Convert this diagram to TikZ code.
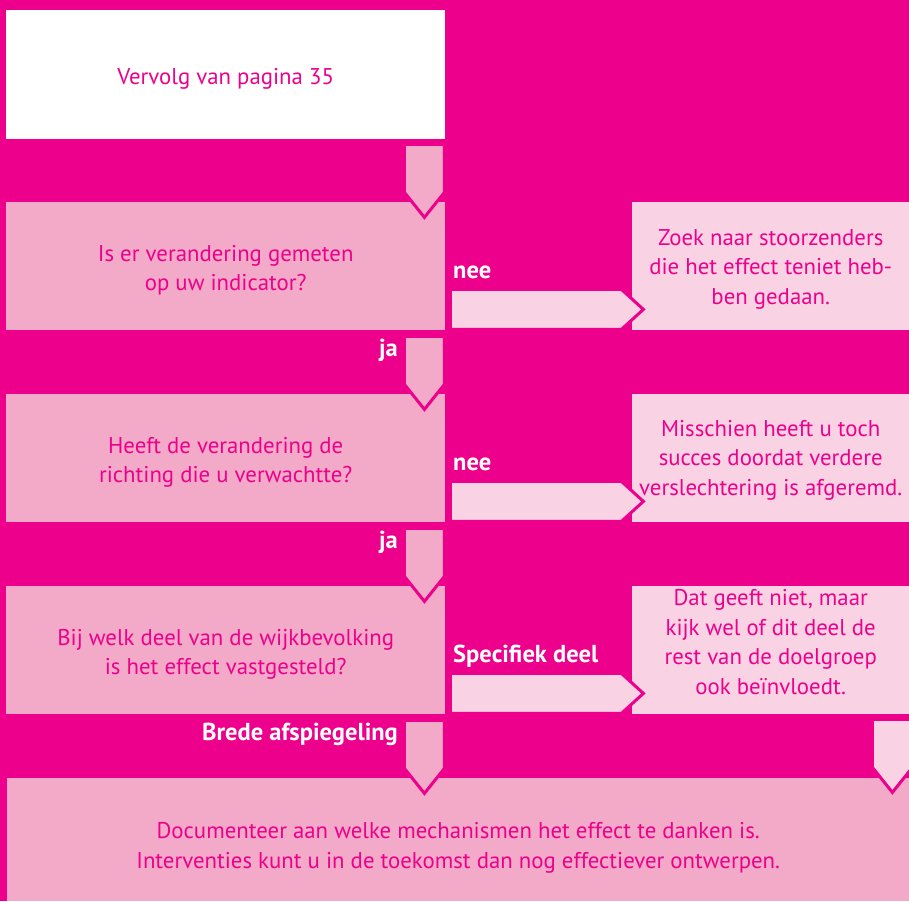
\documentclass[tikz,border=0pt]{standalone}
\usepackage{fontspec}
\setmainfont{PT Sans}
\usetikzlibrary{calc}
\definecolor{mag}{HTML}{EC008C}
\definecolor{midpink}{HTML}{F3A9C8}
\definecolor{lightpink}{HTML}{F9D3E3}
\tikzset{
  x=1pt, y=-1pt,
  txt/.style={font=\fontsize{22.8}{29.5}\selectfont, text=mag, align=center, inner sep=0pt},
  boxtext/.style 2 args={label={[txt, yshift=#1]center:{#2}}},
  lbl/.style={font=\fontsize{24.5}{26}\selectfont\bfseries, text=white, inner sep=0pt},
  qbox/.style={inner sep=0pt, fill=midpink, anchor=north west, minimum width=439, minimum height=128},
  rbox/.style={inner sep=0pt, fill=lightpink, anchor=north west, minimum width=277, minimum height=128},
  dnarr/.style={fill=midpink, draw=mag, line width=3pt, line join=miter},
  dnarrl/.style={fill=lightpink, draw=mag, line width=3pt, line join=miter},
  harr/.style={fill=lightpink, draw=mag, line width=3pt, line join=miter},
}
\begin{document}
\begin{tikzpicture}
\fill[mag] (0,0) rectangle (909,901);
\useasboundingbox (0,0) rectangle (909,901);
% top white box
\node[qbox, fill=white, minimum height=129, boxtext={-4pt}{Vervolg van pagina 35}] (v) at (6,10) {};
% left question boxes
\node[qbox, boxtext={-4pt}{Is er verandering gemeten\\op uw indicator?}] (qa) at (6,202) {};
\node[qbox, boxtext={-4pt}{Heeft de verandering de\\richting die u verwachtte?}] (qb) at (6,394) {};
\node[qbox, boxtext={-4pt}{Bij welk deel van de wijkbevolking\\is het effect vastgesteld?}] (qc) at (6,586) {};
% right boxes
\node[rbox, boxtext={-3pt}{Zoek naar stoorzenders\\die het effect teniet heb-\\ben gedaan.}] (ra) at (632,202) {};
\node[rbox, boxtext={-2pt}{Misschien heeft u toch\\succes doordat verdere\\verslechtering is afgeremd.}] (rb) at (632,394) {};
\node[rbox, boxtext={8pt}{Dat geeft niet, maar\\kijk wel of dit deel de\\rest van de doelgroep\\ook beïnvloedt.}] (rc) at (632,586) {};
% bottom box (extends past the page edge, which crops it)
\node[qbox, minimum width=902, minimum height=123, boxtext={-8pt}{Documenteer aan welke mechanismen het effect te danken is.\\Interventies kunt u in de toekomst dan nog effectiever ontwerpen.}] (doc) at (7,778) {};
% down arrows
\draw[dnarr] ($(v.south east)+(-41,5)$) -- ++(40,0) -- ++(0,48) -- ++(-20,25) -- ++(-20,-25) -- cycle;
\draw[dnarr] ($(qa.south east)+(-41,6)$) -- ++(40,0) -- ++(0,48) -- ++(-20,25) -- ++(-20,-25) -- cycle;
\draw[dnarr] ($(qb.south east)+(-41,6)$) -- ++(40,0) -- ++(0,48) -- ++(-20,25) -- ++(-20,-25) -- cycle;
\draw[dnarr] ($(qc.south east)+(-41,6)$) -- ++(40,0) -- ++(0,48) -- ++(-20,25) -- ++(-20,-25) -- cycle;
\draw[dnarrl] ($(rc.south east)+(-37,5)$) -- ++(40,0) -- ++(0,48) -- ++(-20,25) -- ++(-20,-25) -- cycle;
% horizontal arrows
\draw[harr] ($(qa.south east)+(5,-41)$) -- ++(171,0) -- ++(22,20) -- ++(-22,20) -- ++(-171,0) -- cycle;
\draw[harr] ($(qb.south east)+(5,-41)$) -- ++(171,0) -- ++(22,20) -- ++(-22,20) -- ++(-171,0) -- cycle;
\draw[harr] ($(qc.south east)+(5,-41)$) -- ++(171,0) -- ++(22,20) -- ++(-22,20) -- ++(-171,0) -- cycle;
% labels
\node[lbl, anchor=west] (neea) at (453,272) {nee};
\node[lbl, anchor=west] (neeb) at (453,464) {nee};
\node[lbl, anchor=west] (spec) at (453,656) {Specifiek deel};
\node[lbl, anchor=east] (jaa) at (398,350) {ja};
\node[lbl, anchor=east] (jab) at (398,542) {ja};
\node[lbl, anchor=east] (brede) at (398,734) {Brede afspiegeling};
\end{tikzpicture}
\end{document}
